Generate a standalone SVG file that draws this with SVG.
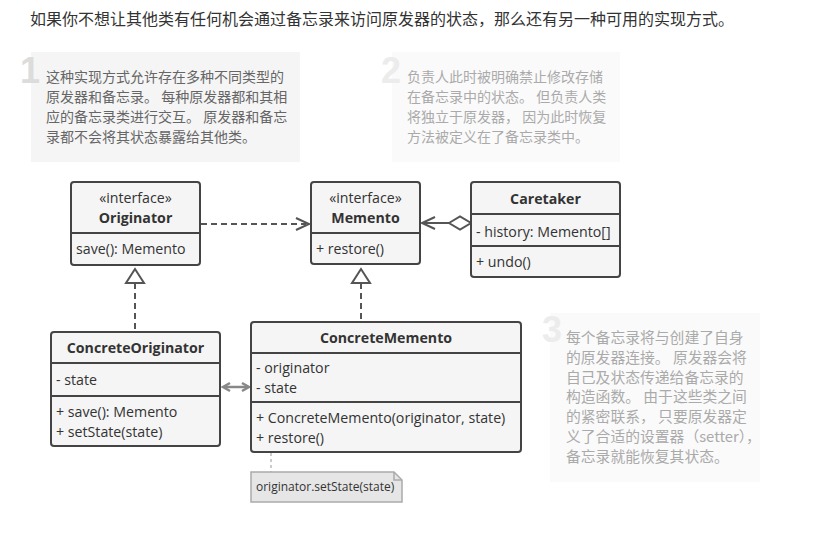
<svg xmlns="http://www.w3.org/2000/svg" width="834" height="533" viewBox="0 0 834 533">
<defs>
<style>
.cjk{font-family:"Noto Sans CJK SC","Noto Sans",sans-serif;}
.head{font-size:16px;fill:#333;}
.step{font-size:14px;}
.s1{fill:#666;}
.s2{fill:#aaa;}
.num{font-family:"Liberation Sans",Arial,sans-serif;font-weight:bold;font-size:36px;}
.n1{fill:#dcdcdc;}
.n2{fill:#ececec;}
.bg1{fill:#f5f5f5;}
.bg2{fill:#fafafa;}
.box{fill:#f5f5f5;stroke:#444;stroke-width:2;}
.div{stroke:#444;stroke-width:2;fill:none;}
.t{font-family:"Open Sans","Noto Sans",sans-serif;font-size:14.2px;fill:#333;}
.b{font-weight:bold;}
.dash{stroke:#555;stroke-width:2;stroke-dasharray:6,4;fill:none;}
.line{stroke:#555;stroke-width:2;fill:none;}
.head-open{stroke:#555;stroke-width:2;fill:none;}
.tri{stroke:#555;stroke-width:2;fill:#fff;}
.grey{stroke:#888;stroke-width:2.5;fill:none;}
.note{fill:#e6e6e6;stroke:#aaa;stroke-width:1.5;}
.nt{font-family:"Open Sans","Noto Sans",sans-serif;font-size:12px;fill:#333;}
</style>
</defs>
<rect width="834" height="533" fill="#fff"/>
<text class="cjk head" x="30" y="25">如果你不想让其他类有任何机会通过备忘录来访问原发器的状态，那么还有另一种可用的实现方式。</text>

<g id="step1">
<rect class="bg1" x="31" y="52" width="269" height="110"/>
<text class="num n1" x="20" y="83">1</text>
<text class="cjk step s1" x="46" y="82">这种实现方式允许存在多种不同类型的</text>
<text class="cjk step s1" x="46" y="102">原发器和备忘录。 每种原发器都和其相</text>
<text class="cjk step s1" x="46" y="122">应的备忘录类进行交互。 原发器和备忘</text>
<text class="cjk step s1" x="46" y="142">录都不会将其状态暴露给其他类。</text>
</g>

<g id="step2">
<rect class="bg2" x="392" y="52" width="228" height="110"/>
<text class="num n2" x="381" y="83">2</text>
<text class="cjk step s2" x="407" y="82">负责人此时被明确禁止修改存储</text>
<text class="cjk step s2" x="407" y="102">在备忘录中的状态。 但负责人类</text>
<text class="cjk step s2" x="407" y="122">将独立于原发器， 因为此时恢复</text>
<text class="cjk step s2" x="407" y="142">方法被定义在了备忘录类中。</text>
</g>

<g id="step3">
<rect class="bg2" x="550" y="313" width="210" height="169"/>
<text class="num n2" x="542" y="342">3</text>
<text class="cjk s2" style="font-size:14.8px" x="566" y="343">每个备忘录将与创建了自身</text>
<text class="cjk s2" style="font-size:14.8px" x="566" y="362.8">的原发器连接。 原发器会将</text>
<text class="cjk s2" style="font-size:14.8px" x="566" y="382.6">自己及状态传递给备忘录的</text>
<text class="cjk s2" style="font-size:14.8px" x="566" y="402.4">构造函数。 由于这些类之间</text>
<text class="cjk s2" style="font-size:14.8px" x="566" y="422.2">的紧密联系， 只要原发器定</text>
<text class="cjk s2" style="font-size:14.8px" x="566" y="442">义了合适的设置器（setter），</text>
<text class="cjk s2" style="font-size:14.8px" x="566" y="461.8">备忘录就能恢复其状态。</text>
</g>

<g id="connectors">
<line class="dash" x1="201" y1="224" x2="306" y2="224"/>
<polyline class="head-open" points="296,218 309,224 296,230"/>
<line class="line" x1="423" y1="223" x2="449" y2="223"/>
<polyline class="head-open" points="435,217 422,223 435,229"/>
<polygon class="tri" points="449,223 460,216.5 471,223 460,229.5"/>
<line class="dash" x1="135" y1="283" x2="135" y2="332"/>
<polygon class="tri" points="135,269 126,283 144,283"/>
<line class="dash" x1="361" y1="283" x2="361" y2="322"/>
<polygon class="tri" points="361,269 352,283 370,283"/>
<line class="grey" x1="224" y1="387" x2="248" y2="387"/>
<polyline class="grey" points="230,383 223,387 230,391"/>
<polyline class="grey" points="242,383 249,387 242,391"/>
<line x1="271" y1="453" x2="271" y2="472" stroke="#bbb" stroke-width="1.5" stroke-dasharray="3,3"/>
</g>

<g id="originator">
<rect class="box" x="71" y="182" width="129" height="83" rx="3"/>
<line class="div" x1="71" y1="233" x2="200" y2="233"/>
<text class="t" x="135.5" y="203" text-anchor="middle">«interface»</text>
<text class="t b" x="135.5" y="223" text-anchor="middle">Originator</text>
<text class="t" x="76" y="254">save(): Memento</text>
</g>

<g id="memento">
<rect class="box" x="311" y="182" width="109" height="82" rx="3"/>
<line class="div" x1="311" y1="233" x2="420" y2="233"/>
<text class="t" x="365.5" y="203" text-anchor="middle">«interface»</text>
<text class="t b" x="365.5" y="223" text-anchor="middle">Memento</text>
<text class="t" x="316" y="254">+ restore()</text>
</g>

<g id="caretaker">
<rect class="box" x="471" y="182" width="149" height="95" rx="3"/>
<line class="div" x1="471" y1="214" x2="620" y2="214"/>
<line class="div" x1="471" y1="246" x2="620" y2="246"/>
<text class="t b" x="545.5" y="204" text-anchor="middle">Caretaker</text>
<text class="t" x="476" y="237">- history: Memento[]</text>
<text class="t" x="476" y="267">+ undo()</text>
</g>

<g id="concreteOriginator">
<rect class="box" x="51" y="332" width="169" height="114" rx="3"/>
<line class="div" x1="51" y1="363" x2="220" y2="363"/>
<line class="div" x1="51" y1="396" x2="220" y2="396"/>
<text class="t b" x="135.5" y="353" text-anchor="middle">ConcreteOriginator</text>
<text class="t" x="56" y="385">- state</text>
<text class="t" x="56" y="417">+ save(): Memento</text>
<text class="t" x="56" y="437">+ setState(state)</text>
</g>

<g id="concreteMemento">
<rect class="box" x="251" y="322" width="270" height="130" rx="3"/>
<line class="div" x1="251" y1="353" x2="521" y2="353"/>
<line class="div" x1="251" y1="402" x2="521" y2="402"/>
<text class="t b" x="386" y="343" text-anchor="middle">ConcreteMemento</text>
<text class="t" x="256" y="373">- originator</text>
<text class="t" x="256" y="393">- state</text>
<text class="t" x="256" y="423">+ ConcreteMemento(originator, state)</text>
<text class="t" x="256" y="443">+ restore()</text>
</g>

<g id="note">
<path class="note" d="M251,472 H394 L402,480 V502 H251 Z"/>
<path d="M394,472 V480 H402" fill="none" stroke="#aaa" stroke-width="1.5"/>
<text class="nt" x="256" y="491">originator.setState(state)</text>
</g>
</svg>
